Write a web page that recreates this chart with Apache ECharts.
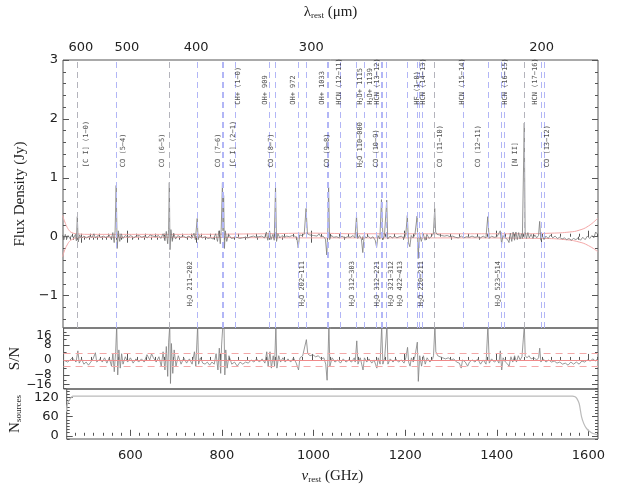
<!DOCTYPE html>
<html>
<head>
<meta charset="utf-8">
<title>Stacked spectrum</title>
<script src="https://cdn.jsdelivr.net/npm/echarts@6/dist/echarts.min.js"></script>
<style>
  html, body { margin: 0; padding: 0; background: #fff; }
  #chart { width: 630px; height: 490px; }
</style>
</head>
<body>
<div id="chart"></div>
<script>
// stacked flux density, [rest frequency GHz, Jy]
const fluxSpectrum = [
  [460,0.03],[463,-0.05],[466,0.04],[469,-0.04],[472,0.02],[476,-0.03],[480,0.02],[484,-0.02],[488,0.04],[490,-0.07],
  [492,0.34],[494,-0.09],[497,0.03],[501,-0.03],[506,0.01],[512,-0.02],[518,0.01],[524,-0.01],[528,0.05],[531,-0.02],
  [537,0.02],[543,-0.01],[549,0.01],[555,-0.02],[561,0.03],[566,-0.05],[569,0.07],[572,-0.1],[574,0.1],[576.3,0.87],
  [578.5,-0.2],[581,0.1],[584,-0.08],[587,0.05],[591,-0.03],[596,0.02],[602,-0.01],[608,0.02],[614,-0.02],[620,0.01],
  [626,0.02],[632,-0.01],[638,0.01],[644,-0.02],[650,0.03],[656,0.01],[662,0],[668,0.02],[673,-0.03],[678,0.05],
  [682,-0.07],[685,0.09],[688,-0.12],[690,0.12],[691.5,0.92],[693,-0.22],[695,0.12],[698,-0.08],[701,0.06],[705,-0.04],
  [710,0.02],[716,-0.01],[722,0.01],[728,-0.02],[734,0.01],[740,-0.03],[745,0.06],[748,-0.05],[752,0.31],[754,-0.05],
  [757,0.02],[763,-0.02],[769,0],[775,-0.03],[781,-0.02],[787,-0.04],[792,0.05],[796,-0.08],[799,0.1],[802,-0.12],
  [804,0.12],[806.7,0.92],[808,0.1],[809.3,0.7],[811,-0.2],[813,0.1],[816,-0.08],[820,0.04],[826,-0.03],[832,-0.02],
  [838,-0.01],[844,-0.03],[850,-0.02],[856,-0.01],[862,-0.02],[868,0],[874,0.01],[880,-0.01],[886,0],[892,0.01],
  [898,-0.02],[902,0.08],[905,-0.06],[909,0.1],[912,-0.05],[916,0.04],[919,-0.06],[921.8,0.84],[924,-0.08],[927,0.05],
  [931,-0.02],[936,0.02],[941,-0.01],[946,0.01],[952,0],[958,0.02],[963,0.01],[968,-0.02],[971,-0.19],[974,0.03],
  [979,0.02],[984,0.04],[988,0.48],[991,0.05],[996,0.03],[1000,0.06],[1004,0.02],[1008,0.04],[1012,0.01],[1016,0.05],
  [1020,0],[1025,0.01],[1030,-0.04],[1033,-0.31],[1035,0.05],[1036.9,0.84],[1039,-0.05],[1043,0.02],[1048,-0.01],[1054,0],
  [1060,-0.02],[1066,0.01],[1072,-0.02],[1078,0],[1084,-0.01],[1090,0.02],[1094,-0.02],[1097.4,0.35],[1100,-0.03],[1104,0.02],
  [1108,-0.04],[1111,-0.27],[1114,0.02],[1118,-0.02],[1123,0.01],[1128,-0.03],[1133,0],[1138,-0.06],[1141,-0.18],[1144,0.02],
  [1148,-0.04],[1151.5,0.63],[1155,-0.05],[1158,0.02],[1162.9,0.62],[1165,-0.04],[1170,0.01],[1175,-0.02],[1180,0.01],[1185,-0.02],
  [1190,0],[1195,0.01],[1200,-0.03],[1204,0.02],[1207.6,0.36],[1210,-0.1],[1213,-0.17],[1216,0.02],[1220,-0.02],[1224,0.03],
  [1228.8,0.35],[1231,-0.37],[1234,0.05],[1238,-0.08],[1242,0.05],[1246,-0.06],[1250,0.04],[1255,-0.03],[1260,0.01],[1264,0.05],
  [1267,0.48],[1269,0.08],[1272,0.04],[1276,0.03],[1282,0.02],[1288,0.01],[1294,0.02],[1300,0],[1306,0.01],[1312,-0.01],
  [1318,-0.02],[1322,-0.04],[1325,0.01],[1330,-0.02],[1336,0],[1342,-0.01],[1348,0.01],[1354,-0.01],[1360,0],[1366,-0.02],
  [1372,0.01],[1378,-0.02],[1382,0.34],[1385,-0.03],[1390,0.01],[1396,-0.01],[1402,0],[1406,-0.03],[1409,0.1],[1412,-0.12],
  [1415,0.02],[1420,-0.02],[1425,-0.05],[1428,-0.1],[1431,0.06],[1434,-0.08],[1437,0.08],[1440,-0.06],[1443,0.08],[1446,-0.05],
  [1449,0.07],[1452,-0.04],[1455,0.05],[1457,-0.03],[1461.1,1.93],[1463,0.08],[1466,-0.03],[1469,0.07],[1472,-0.02],[1476,0.04],
  [1480,-0.03],[1484,0.03],[1488,-0.02],[1492,0.02],[1494.5,0.26],[1497,-0.06],[1500,0.02],[1504,-0.05],[1508,0.01],[1513,-0.03],
  [1518,0.03],[1523,-0.02],[1528,0.01],[1533,-0.03],[1538,-0.01],[1543,-0.04],[1548,-0.02],[1553,-0.05],[1558,-0.03],[1563,-0.06],
  [1568,-0.03],[1573,-0.05],[1578,-0.02],[1583,-0.06],[1588,-0.01],[1593,-0.05],[1598,0.01],[1603,-0.03],[1608,0.02],[1612,-0.02],
  [1616,0.08],[1620,0.04]
];
// red uncertainty envelope
const fluxUpper = [[460,0.36],[465,0.25],[470,0.16],[475,0.1],[480,0.07],[490,0.05],[520,0.04],[700,0.04],[900,0.05],[1000,0.06],
  [1100,0.05],[1300,0.05],[1450,0.05],[1520,0.06],[1560,0.08],[1580,0.11],[1600,0.18],[1620,0.31]];
const fluxLower = [[460,-0.34],[465,-0.22],[470,-0.14],[475,-0.08],[480,-0.05],[490,-0.02],[520,-0.01],[700,-0.01],[1000,-0.02],
  [1300,-0.02],[1500,-0.03],[1550,-0.05],[1580,-0.09],[1600,-0.15],[1620,-0.25]];

// signal to noise, [GHz, S/N]
const snSpectrum = [
  [460,0],[470,-1],[480,1],[488,-1],[492,4.5],[495,-1.5],[500,0.5],[505,-2],[510,-1],[515,-2.5],[520,-1],[525,0.5],[530,3.5],[533,-1],
  [540,0.5],[545,-1],[550,1],[555,-1.5],[560,1],[565,-3],[568,3],[571,-6],[574,4],[576.3,30],[578.5,-8],[581,5],[584,-4],[587,3],
  [590,-2],[595,1.5],[600,-1],[606,1],[612,-1.5],[618,0.5],[624,-1],[630,0.5],[636,-1],[642,2.5],[645,3],[648,0],[652,3],[656,1],
  [662,-1],[668,1.5],[673,-3],[677,4],[681,-5],[684,7],[687,-9],[689,10],[691.5,30],[693,-15],[695,9],[698,-7],[701,5],[705,-3],
  [710,2],[716,-2],[722,1],[728,-1.5],[734,0.5],[740,-2],[745,4],[748,-3],[752,30],[754,-2],[758,1],[763,-1.5],[768,-2],[773,-1],
  [778,-2.5],[783,-1],[788,-2],[792,3],[796,-5],[799,6],[802,-7],[804,8],[806.7,30],[809.3,25],[811,-8],[813,5],[816,-4],[820,2],
  [826,-2],[832,-1],[838,-3],[844,-1],[850,-2],[856,-1],[862,-1.5],[868,0],[874,-1],[880,0.5],[886,-1],[892,0.5],[898,-1.5],[902,4],
  [905,-3],[909,4],[912,-4],[916,2],[919,-3],[921.8,30],[924,-4],[928,2],[932,-1],[937,1],[942,-1],[948,0.5],[954,-1],[960,1],
  [966,-1.5],[971,-5],[974,1],[980,2],[984,1.5],[988,12],[991,3],[996,2],[1002,2.5],[1008,1.5],[1014,2],[1020,0.5],[1026,1],[1030,-2],
  [1033,-12],[1035,2],[1036.9,30],[1039,-3],[1044,1],[1050,-1],[1056,0],[1062,-1.5],[1068,0.5],[1074,-1],[1080,0],[1086,-1],[1092,1],
  [1094,-1],[1097.4,11],[1100,-2],[1105,1],[1108,-2],[1111,-5],[1114,1],[1119,-1],[1124,0.5],[1130,-1.5],[1135,0],[1138,-2],[1141,-4],
  [1144,1],[1148,-2],[1151.5,30],[1154,-2],[1158,1],[1162.9,30],[1165,-2],[1170,0.5],[1176,-1],[1182,0.5],[1188,-1],[1194,0],[1200,-1.5],
  [1204,1],[1207.6,6.5],[1210,-1],[1213,-3],[1216,1],[1220,-1],[1224,2],[1228.8,10],[1231,-13],[1234,2],[1238,-3],[1242,2],[1246,-2],
  [1250,1],[1256,-1],[1262,0.5],[1264,2],[1267,30],[1269,4],[1273,2],[1278,1.5],[1284,1],[1290,0.5],[1296,1],[1302,0],[1308,0.5],
  [1314,-1],[1320,-1.5],[1324,-4],[1327,0],[1333,-1],[1338,-3],[1342,-1],[1348,0],[1354,-1],[1360,0.5],[1366,-2],[1372,0],[1378,-2],
  [1382,30],[1385,-1.5],[1390,0.5],[1396,-1],[1402,0],[1406,-1.5],[1409,4.5],[1412,-5],[1415,1],[1420,-1],[1425,-2],[1428,-3],[1432,1.5],
  [1436,-1],[1440,2],[1444,-1],[1448,2],[1452,0],[1456,1.5],[1461.1,30],[1463,2],[1467,1],[1471,2],[1476,0.5],[1482,1],[1488,0],
  [1492,1],[1494.5,6],[1497,-1],[1502,0.5],[1508,-1],[1514,0],[1520,-1],[1526,-0.5],[1532,-1.5],[1538,-1],[1544,-2],[1550,-1.5],
  [1556,-2.5],[1562,-1],[1568,-2],[1574,-1],[1580,-2],[1586,-0.5],[1592,-1],[1598,0],[1604,-0.5],[1610,0.5],[1615,-0.5],[1620,0.5]
];

// number of sources contributing, [GHz, N]
const nSources = [[460,75],[462,95],[465,108],[469,116],[474,124],[480,124],[1565,124],[1571,122],[1575,116],[1580,100],
  [1585,60],[1590,38],[1595,25],[1602,14],[1610,7],[1620,3]];

// dashed line markers (GHz) and which of them are grey rather than blue
const lineFreqs = [492.2,576.3,691.5,752.0,806.7,809.3,835.1,909.2,921.8,971.8,987.9,1033.1,1037.0,1063.0,1097.4,1113.3,1115.2,
  1139.6,1151.5,1153.1,1162.9,1207.6,1228.8,1232.5,1239.9,1267.0,1328.3,1382.0,1410.6,1416.7,1461.1,1496.9,1505.1];
const lineGrey = [492.2,691.5,1267.0,1461.1];

// line identifications: [text, GHz position of text]
const labelsMid = [['[C I] (1−0)',512],['CO (5−4)',591],['CO (6−5)',676],['CO (7−6)',798],['[C I] (2−1)',830],['CO (8−7)',912],
  ['CO (9−8)',1034],['H2O 110−000',1106],['CO (10−9)',1140],['CO (11−10)',1278],['CO (12−11)',1362],['[N II]',1442],['CO (13−12)',1510]];
const labelsTop = [['CH+ (1−0)',841],['OH+ 909',899],['OH+ 972',961],['OH+ 1033',1022],['HCN (12−11)',1059],['H2O+ 1115',1105],
  ['H2O+ 1139',1128],['HCN (13−12)',1142],['HF (1−0)',1229],['HCN (14−13)',1243],['HCN (15−14)',1326],['HCN (16−15)',1420],['HCN (17−16)',1485]];
const labelsLow = [['H2O 211−202',737],['H2O 202−111',979],['H2O 312−303',1088],['H2O 312−221',1142],['H2O 321−312',1172],
  ['H2O 422−413',1193],['H2O 220−211',1238],['H2O 523−514',1404]];

const lambdaMajor = [600, 500, 400, 300, 200];
const snInner = [-8, 0, 8];
const snOuter = [-16, 16];
const NU_MIN = 461, NU_MAX = 1621;
const C = 299792.458;
const T = v => Math.asinh(v / 8);   // S/N panel is asinh-stretched

const chart = echarts.init(document.getElementById('chart'));

const range = (a, b, s) => { const r = []; for (let v = a; v <= b + 1e-9; v += s) r.push(+v.toFixed(4)); return r; };
const minus = v => (v < 0 ? '\u2212' + Math.abs(v) : '' + v);
const tickCol = '#555';

function xa(grid, pos, ticks, len, extra) {
  return Object.assign({
    type: 'value', gridIndex: grid, position: pos, min: NU_MIN, max: NU_MAX,
    axisLine: { show: false }, splitLine: { show: false },
    axisTick: { show: true, inside: true, length: len, customValues: ticks, lineStyle: { color: tickCol } },
    axisLabel: { show: false }
  }, extra || {});
}
function ya(grid, pos, min, max, ticks, len, extra) {
  return Object.assign({
    type: 'value', gridIndex: grid, position: pos, min: min, max: max,
    axisLine: { show: false }, splitLine: { show: false },
    axisTick: { show: true, inside: true, length: len, customValues: ticks, lineStyle: { color: tickCol } },
    axisLabel: { show: false }
  }, extra || {});
}

const nuMajor = range(600, 1600, 200);
const nuMinor = range(480, 1620, 20);
const lamMinor = range(190, 650, 10).map(l => C / l).filter(v => v > NU_MIN && v < NU_MAX);
const labelFont = { fontFamily: 'DejaVu Sans', fontSize: 13, color: '#222' };
const nameFont = { fontFamily: 'Liberation Serif', fontSize: 15, color: '#222' };
const subRich = { s: { fontFamily: 'Liberation Serif', fontSize: 9, verticalAlign: 'bottom', padding: [5, 0, 0, 0] } };

const snT = [T(-16), T(-8), 0, T(8), T(16)];
const snMinor = [-20, -12, -4, 4, 12, 20].map(T);
const snFmt = v => minus(Math.round(8 * Math.sinh(v)));

const xAxis = [
  xa(0, 'bottom', nuMajor, 6),
  xa(0, 'bottom', nuMinor, 3),
  xa(0, 'top', lambdaMajor.map(l => C / l), 6, {
    axisLabel: Object.assign({ show: true, interval: 0, customValues: lambdaMajor.map(l => C / l), margin: 6,
      formatter: v => '' + Math.round(C / v) }, labelFont),
    name: '{n|λ}{s|rest} {n|(μm)}', nameLocation: 'middle', nameGap: 40,
    nameTextStyle: Object.assign({ rich: Object.assign({ n: nameFont }, subRich) }, nameFont)
  }),
  xa(0, 'top', lamMinor, 3),
  xa(1, 'bottom', nuMajor, 6),
  xa(1, 'bottom', nuMinor, 3),
  xa(2, 'bottom', nuMajor, 6, {
    axisLabel: Object.assign({ show: true, interval: 0, customValues: nuMajor, margin: 10, formatter: v => '' + v }, labelFont),
    name: '{i|ν}{s|rest} {n|(GHz)}', nameLocation: 'middle', nameGap: 30,
    nameTextStyle: Object.assign({ rich: Object.assign({ n: nameFont, i: Object.assign({}, nameFont, { fontStyle: 'italic' }) }, subRich) }, nameFont)
  }),
  xa(2, 'bottom', nuMinor, 3)
];

const fluxMajor = [-1, 0, 1, 2, 3];
const fluxMinor = range(-1.4, 3, 0.2);
const nMajor = [0, 60, 120];
const nMinor = range(-10, 140, 10);

const yAxis = [
  ya(0, 'left', -1.55, 3, fluxMajor, 6, {
    axisLabel: Object.assign({ show: true, interval: 0, customValues: fluxMajor, margin: 5, formatter: minus }, labelFont),
    name: 'Flux Density (Jy)', nameLocation: 'middle', nameGap: 32, nameTextStyle: nameFont
  }),
  ya(0, 'left', -1.55, 3, fluxMinor, 3),
  ya(0, 'right', -1.55, 3, fluxMajor, 6),
  ya(0, 'right', -1.55, 3, fluxMinor, 3),
  ya(1, 'left', -1.71, 1.88, snT, 6, {
    axisLabel: Object.assign({ show: true, interval: 0, customValues: snInner.map(T), margin: 12, formatter: snFmt },
      labelFont, { fontSize: 12 }),
    name: 'S/N', nameLocation: 'middle', nameGap: 32, nameTextStyle: nameFont
  }),
  ya(1, 'left', -1.71, 1.88, snMinor, 3),
  ya(1, 'right', -1.71, 1.88, snT, 6),
  ya(1, 'right', -1.71, 1.88, snMinor, 3),
  ya(2, 'left', -10, 146, nMajor, 6, {
    axisLabel: Object.assign({ show: true, interval: 0, customValues: nMajor, margin: 8 }, labelFont),
    name: '{n|N}{s|sources}', nameLocation: 'middle', nameGap: 36,
    nameTextStyle: Object.assign({ rich: Object.assign({ n: nameFont }, subRich) }, nameFont)
  }),
  ya(2, 'left', -10, 146, nMinor, 3),
  ya(2, 'right', -10, 146, nMajor, 6),
  ya(2, 'right', -10, 146, nMinor, 3),
  // the ±16 labels sit on their own axis so they are not dropped as overlapping
  ya(1, 'left', -1.71, 1.88, [], 0, {
    axisTick: { show: false },
    axisLabel: Object.assign({ show: true, interval: 0, customValues: snOuter.map(T), margin: 12, formatter: snFmt },
      labelFont, { fontSize: 12 })
  })
];

const gridBox = { left: 63, width: 535, show: true, borderColor: '#555', borderWidth: 1, backgroundColor: 'transparent' };

const idRich = { s: { fontFamily: 'DejaVu Sans Mono', fontSize: 5, verticalAlign: 'bottom', padding: [3, 0, 0, 0] } };
function labelSeries(list, y) {
  return {
    type: 'scatter', xAxisIndex: 0, yAxisIndex: 0, symbolSize: 1, z: 5, silent: true,
    itemStyle: { color: 'rgba(0,0,0,0)' },
    data: list.map(d => ({ value: [d[1], y], name: d[0] })),
    label: {
      show: true, position: 'inside', rotate: 90, align: 'left', verticalAlign: 'middle',
      fontFamily: 'DejaVu Sans Mono', fontSize: 7, color: '#222',
      formatter: p => p.name.replace('H2O', 'H{s|2}O'),
      rich: idRich
    }
  };
}

chart.setOption({
  animation: false,
  backgroundColor: '#fff',
  grid: [
    Object.assign({ top: 58, height: 270 }, gridBox),
    Object.assign({ top: 328, height: 61 }, gridBox),
    Object.assign({ top: 389, height: 50 }, gridBox)
  ],
  xAxis: xAxis,
  yAxis: yAxis,
  series: [
    {
      type: 'line', xAxisIndex: 0, yAxisIndex: 0, data: [], z: 1, silent: true,
      markLine: {
        silent: true, symbol: ['none', 'none'], label: { show: false }, animation: false,
        data: lineFreqs.map(f => ({
          xAxis: f,
          lineStyle: { color: lineGrey.includes(f) ? '#b4b4bc' : '#b2b6f6', type: [6, 4], width: 1 }
        }))
      }
    },
    {
      type: 'line', xAxisIndex: 0, yAxisIndex: 0, data: fluxUpper, smooth: true, showSymbol: false, z: 2,
      lineStyle: { color: '#f4a8a8', width: 1 }
    },
    {
      type: 'line', xAxisIndex: 0, yAxisIndex: 0, data: fluxLower, smooth: true, showSymbol: false, z: 2,
      lineStyle: { color: '#f4a8a8', width: 1 }
    },
    {
      type: 'line', xAxisIndex: 0, yAxisIndex: 0, data: fluxSpectrum, showSymbol: false, z: 3,
      lineStyle: { color: '#7a7a7a', width: 0.8 }
    },
    labelSeries(labelsMid, 1.18),
    labelSeries(labelsTop, 2.24),
    labelSeries(labelsLow, -1.18),
    {
      type: 'line', xAxisIndex: 4, yAxisIndex: 4, data: snSpectrum.map(d => [d[0], T(d[1])]), showSymbol: false, z: 3,
      lineStyle: { color: '#808080', width: 0.8 },
      markLine: {
        silent: true, symbol: ['none', 'none'], label: { show: false },
        data: [
          { yAxis: 0, lineStyle: { color: '#f08a8a', type: 'solid', width: 1 } },
          { yAxis: T(3), lineStyle: { color: '#f4a8a8', type: [7, 5], width: 1 } },
          { yAxis: T(-3), lineStyle: { color: '#f4a8a8', type: [7, 5], width: 1 } }
        ]
      }
    },
    {
      type: 'line', xAxisIndex: 6, yAxisIndex: 8, data: nSources, smooth: 0.3, showSymbol: false,
      lineStyle: { color: '#bbb', width: 1.2 }
    }
  ]
});
</script>
</body>
</html>
